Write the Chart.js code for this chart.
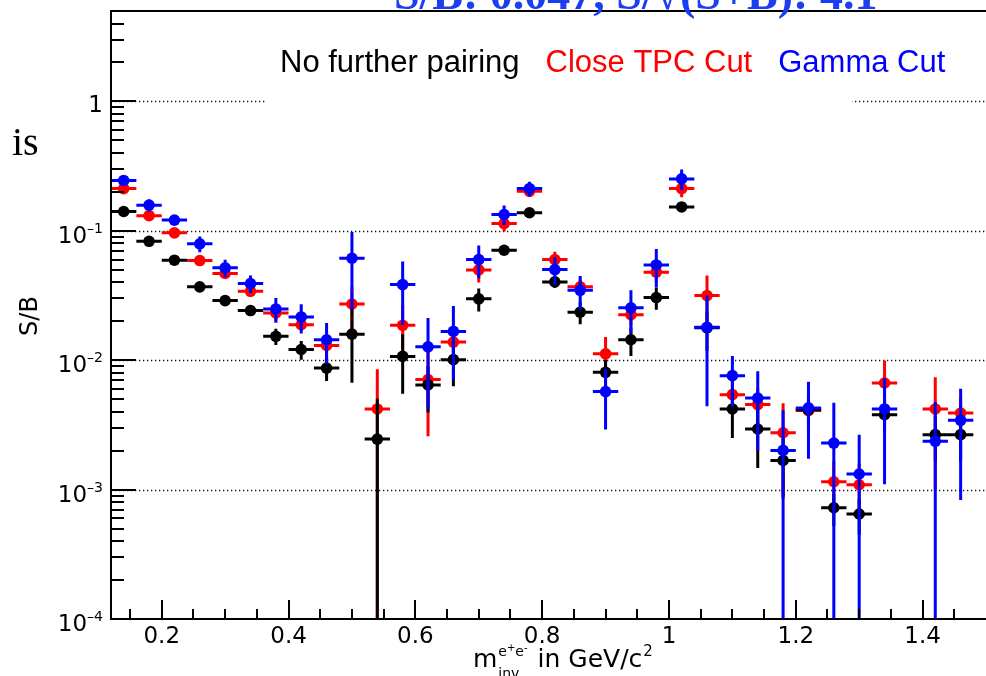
<!DOCTYPE html>
<html lang="en">
<head>
<meta charset="utf-8">
<title>S/B vs m_inv</title>
<script src="https://cdn.jsdelivr.net/npm/chart.js@4.4.1/dist/chart.umd.min.js"></script>
<style>
    html, body { margin: 0; padding: 0; background: #fff; overflow: hidden; }
    #sbChart { display: block; }
</style>
</head>
<body>
<canvas id="sbChart" width="986" height="676"></canvas>
<script>
// Bin centres of the invariant mass histogram (GeV/c^2), bin width 0.04
const binCenters = [0.14, 0.18, 0.22, 0.26, 0.30, 0.34, 0.38, 0.42, 0.46, 0.50,
                    0.54, 0.58, 0.62, 0.66, 0.70, 0.74, 0.78, 0.82, 0.86, 0.90,
                    0.94, 0.98, 1.02, 1.06, 1.10, 1.14, 1.18, 1.22, 1.26, 1.30,
                    1.34, 1.38, 1.42, 1.46];
const binHalfWidth = 0.02;

// S/B per bin and its uncertainty (null = empty bin)
const sbNoPairing = [0.141, 0.083, 0.0593, 0.0369, 0.0289, 0.0242, 0.0153, 0.0121, 0.0087, 0.0159,
                     0.00246, 0.0107, 0.00644, 0.0101, 0.0298, 0.0708, 0.138, 0.0403, 0.0235, 0.00806,
                     0.0144, 0.0305, 0.153, 0.0178, 0.0042, 0.00294, 0.00168, 0.00415, 0.000724, 0.000648,
                     0.00379, null, 0.00266, 0.00266];
const errNoPairing = [0.004, 0.003, 0.002, 0.0015, 0.0015, 0.0015, 0.0022, 0.002, 0.0018, 0.0092,
                      0.0026, 0.0052, 0.0025, 0.0038, 0.006, 0.005, 0.006, 0.004, 0.0045, 0.002,
                      0.0036, 0.006, 0.008, 0.006, 0.0017, 0.00147, 0.0008, 0.001, 0.0002, 0.0002,
                      0.001, null, 0.001, 0.001];

const sbCloseTPC = [0.212, 0.131, 0.0965, 0.0589, 0.0468, 0.0341, 0.0232, 0.0188, 0.0130, 0.0272,
                    0.0042, 0.0186, 0.00708, 0.0138, 0.0499, 0.1138, 0.202, 0.060, 0.0369, 0.0112,
                    0.0225, 0.0479, 0.212, 0.0316, 0.00542, 0.00454, 0.00275, 0.00408, 0.00115, 0.00109,
                    0.00667, null, 0.0042, 0.00391];
const errCloseTPC = [0.006, 0.004, 0.003, 0.002, 0.004, 0.003, 0.003, 0.002, 0.003, 0.01,
                     0.0043, 0.008, 0.0045, 0.004, 0.01, 0.015, 0.01, 0.009, 0.005, 0.0039,
                     0.004, 0.008, 0.03, 0.0135, 0.0015, 0.0015, 0.0019, 0.001, 0.0005, 0.0005,
                     0.0033, null, 0.0032, 0.0012];

const sbGamma = [0.245, 0.158, 0.121, 0.0793, 0.0518, 0.0391, 0.0249, 0.0216, 0.0144, 0.0614,
                 null, 0.0384, 0.0127, 0.0167, 0.060, 0.1337, 0.212, 0.0502, 0.0347, 0.00572,
                 0.0254, 0.0545, 0.252, 0.0180, 0.0076, 0.0051, 0.00201, 0.00428, 0.00229, 0.00132,
                 0.0042, null, 0.00236, 0.00343];
const errGamma = [0.02, 0.017, 0.01, 0.011, 0.008, 0.006, 0.0054, 0.0055, 0.005, 0.0366,
                  null, 0.0196, 0.0085, 0.0096, 0.017, 0.023, 0.028, 0.012, 0.010, 0.0028,
                  0.0093, 0.018, 0.046, 0.0136, 0.0032, 0.0031, 0.0021, 0.00255, 0.0024, 0.00134,
                  0.0031, null, 0.0024, 0.0026];

const seriesNames = ['No further pairing', 'Close TPC Cut', 'Gamma Cut'];
const seriesColors = ['#000000', '#ff0000', '#0000ff'];
// stacking: red at the bottom, then black, gamma cut on top
const seriesOrder = [2, 3, 1];

// axis ticks
const xMajorTicks = [0.2, 0.4, 0.6, 0.8, 1.0, 1.2, 1.4];
const xTickLabels = ['0.2', '0.4', '0.6', '0.8', '1', '1.2', '1.4'];
const yDecades = [0, -1, -2, -3, -4];

const summaryText = 'S/B: 0.047, S/\u221A(S+B): 4.1';

function toPoints(values, errors) {
    const pts = [];
    values.forEach((v, i) => {
        if (v !== null) pts.push({ x: binCenters[i], y: v, err: errors[i] });
    });
    return pts;
}

function series(i, values, errors) {
    return {
        label: seriesNames[i],
        data: toPoints(values, errors),
        backgroundColor: seriesColors[i],
        borderColor: seriesColors[i],
        pointRadius: 5.8,
        pointHoverRadius: 5.8,
        pointBorderWidth: 0,
        order: seriesOrder[i]
    };
}

const tickFont = '23px "DejaVu Sans"';

// ROOT-like frame: inward ticks, dotted decade grid, error bars, legend
const rootStyle = {
    id: 'rootStyle',
    beforeDatasetsDraw(chart) {
        const { ctx, chartArea: a, scales: { y } } = chart;
        ctx.save();
        ctx.strokeStyle = '#111';
        ctx.lineWidth = 1.3;
        ctx.setLineDash([1.3, 2.7]);
        yDecades.slice(0, 4).forEach(k => {
            const py = Math.round(y.getPixelForValue(Math.pow(10, k))) + 0.5;
            ctx.beginPath();
            ctx.moveTo(a.left, py);
            ctx.lineTo(a.right, py);
            ctx.stroke();
        });
        ctx.restore();
        // legend box covers the grid behind it
        ctx.fillStyle = '#fff';
        ctx.fillRect(266, 22, 586, 88);
    },
    beforeDatasetDraw(chart, args) {
        const { ctx, chartArea: a, scales: { x, y } } = chart;
        const ds = chart.data.datasets[args.index];
        ctx.save();
        ctx.beginPath();
        ctx.rect(a.left, a.top, a.right - a.left, a.bottom - a.top);
        ctx.clip();
        ctx.strokeStyle = ds.borderColor;
        ctx.lineWidth = 3;
        ds.data.forEach(p => {
            const px = x.getPixelForValue(p.x);
            const py = y.getPixelForValue(p.y);
            const hi = y.getPixelForValue(p.y + p.err);
            const lo = p.y - p.err > 0 ? y.getPixelForValue(p.y - p.err) : a.bottom;
            ctx.beginPath();
            ctx.moveTo(x.getPixelForValue(p.x - binHalfWidth), py);
            ctx.lineTo(x.getPixelForValue(p.x + binHalfWidth), py);
            ctx.moveTo(px, hi);
            ctx.lineTo(px, lo);
            ctx.stroke();
        });
        ctx.restore();
    },
    afterDraw(chart) {
        const { ctx, chartArea: a, scales: { x, y } } = chart;
        ctx.save();
        ctx.strokeStyle = '#000';
        ctx.lineWidth = 2;
        // frame: the right edge falls on the canvas border
        ctx.beginPath();
        ctx.moveTo(a.right, a.top);
        ctx.lineTo(a.left, a.top);
        ctx.lineTo(a.left, a.bottom);
        ctx.lineTo(a.right, a.bottom);
        ctx.stroke();

        // y ticks (log): major at decades, minor at 2..9
        ctx.beginPath();
        for (let k = -4; k <= 0; k++) {
            for (let m = 1; m <= 9; m++) {
                const v = m * Math.pow(10, k);
                if (v > y.max) break;
                const py = Math.round(y.getPixelForValue(v));
                ctx.moveTo(a.left, py);
                ctx.lineTo(a.left + (m === 1 ? 25 : 13), py);
            }
        }
        // x ticks: major every 0.2, minor every 0.05
        for (let i = 3; i <= 29; i++) {
            const v = i * 0.05;
            if (v <= x.min || v >= x.max) continue;
            const px = Math.round(x.getPixelForValue(v));
            const major = i % 4 === 0;
            ctx.moveTo(px, a.bottom);
            ctx.lineTo(px, a.bottom - (major ? 19 : 10));
        }
        ctx.stroke();

        // tick labels
        ctx.fillStyle = '#000';
        ctx.font = tickFont;
        ctx.textAlign = 'center';
        ctx.textBaseline = 'alphabetic';
        xMajorTicks.forEach((v, i) => {
            ctx.fillText(xTickLabels[i], x.getPixelForValue(v), a.bottom + 24);
        });
        const labelRight = 103;
        yDecades.forEach(k => {
            const py = y.getPixelForValue(Math.pow(10, k));
            ctx.textAlign = 'right';
            if (k === 0) {
                ctx.font = tickFont;
                ctx.fillText('1', labelRight, py + 11);
                return;
            }
            ctx.font = '14px "DejaVu Sans"';
            const exp = '\u2013' + (-k);
            ctx.fillText(exp, labelRight, py + 2);
            const w = ctx.measureText(exp).width;
            ctx.font = tickFont;
            ctx.fillText('10', labelRight - w, py + 12);
        });

        // axis titles
        ctx.save();
        ctx.translate(36.5, 316);
        ctx.rotate(-Math.PI / 2);
        ctx.textAlign = 'center';
        ctx.font = '24px "DejaVu Sans"';
        ctx.fillText('S/B', 0, 0);
        ctx.restore();

        ctx.textAlign = 'left';
        let cx = 473;
        const base = 667;
        ctx.font = '25px "DejaVu Sans"';
        ctx.fillText('m', cx, base);
        cx += ctx.measureText('m').width + 1;
        let sx = cx;
        ctx.font = '14px "DejaVu Sans"';
        ctx.fillText('e', sx, base - 11); sx += ctx.measureText('e').width;
        ctx.font = '10px "DejaVu Sans"';
        ctx.fillText('+', sx, base - 16); sx += ctx.measureText('+').width;
        ctx.font = '14px "DejaVu Sans"';
        ctx.fillText('e', sx, base - 11); sx += ctx.measureText('e').width;
        ctx.font = '10px "DejaVu Sans"';
        ctx.fillText('-', sx, base - 16); sx += ctx.measureText('-').width;
        ctx.font = '14px "DejaVu Sans"';
        ctx.fillText('inv', cx, base + 11);
        cx = Math.max(sx, cx + ctx.measureText('inv').width) + 10;
        ctx.font = '25px "DejaVu Sans"';
        ctx.fillText('in GeV/c', cx, base);
        cx += ctx.measureText('in GeV/c').width + 1;
        ctx.font = '15px "DejaVu Sans"';
        ctx.fillText('2', cx, base - 11);

        // legend entries (text only, in series colour)
        ctx.font = '31px "Liberation Sans"';
        let lx = 280;
        seriesNames.forEach((name, i) => {
            ctx.fillStyle = seriesColors[i];
            ctx.fillText(name, lx, 72);
            lx += ctx.measureText(name).width + 26;
        });

        // summary line above the frame and the stray word on the left
        ctx.fillStyle = '#1b3ef2';
        ctx.font = 'bold 46px "Liberation Serif"';
        ctx.fillText(summaryText, 394, 9);
        ctx.fillStyle = '#000';
        ctx.font = '40px "Liberation Serif"';
        ctx.fillText('is', 12, 155);
        ctx.restore();
    }
};

new Chart(document.getElementById('sbChart'), {
    type: 'scatter',
    data: {
        datasets: [
            series(0, sbNoPairing, errNoPairing),
            series(1, sbCloseTPC, errCloseTPC),
            series(2, sbGamma, errGamma)
        ]
    },
    options: {
        responsive: false,
        animation: false,
        devicePixelRatio: 1,
        layout: { autoPadding: false, padding: { top: 11, right: 0, bottom: 0, left: 0 } },
        plugins: {
            legend: { display: false },
            tooltip: { enabled: false }
        },
        scales: {
            x: {
                type: 'linear',
                min: 0.12,
                max: 1.5,
                ticks: { display: false },
                grid: { display: false },
                border: { display: false },
                afterFit: scale => { scale.height = 57; }
            },
            y: {
                type: 'logarithmic',
                min: 1e-4,
                max: 5,
                ticks: { display: false },
                grid: { display: false },
                border: { display: false },
                afterFit: scale => { scale.width = 111; }
            }
        }
    },
    plugins: [rootStyle]
});
</script>
</body>
</html>
